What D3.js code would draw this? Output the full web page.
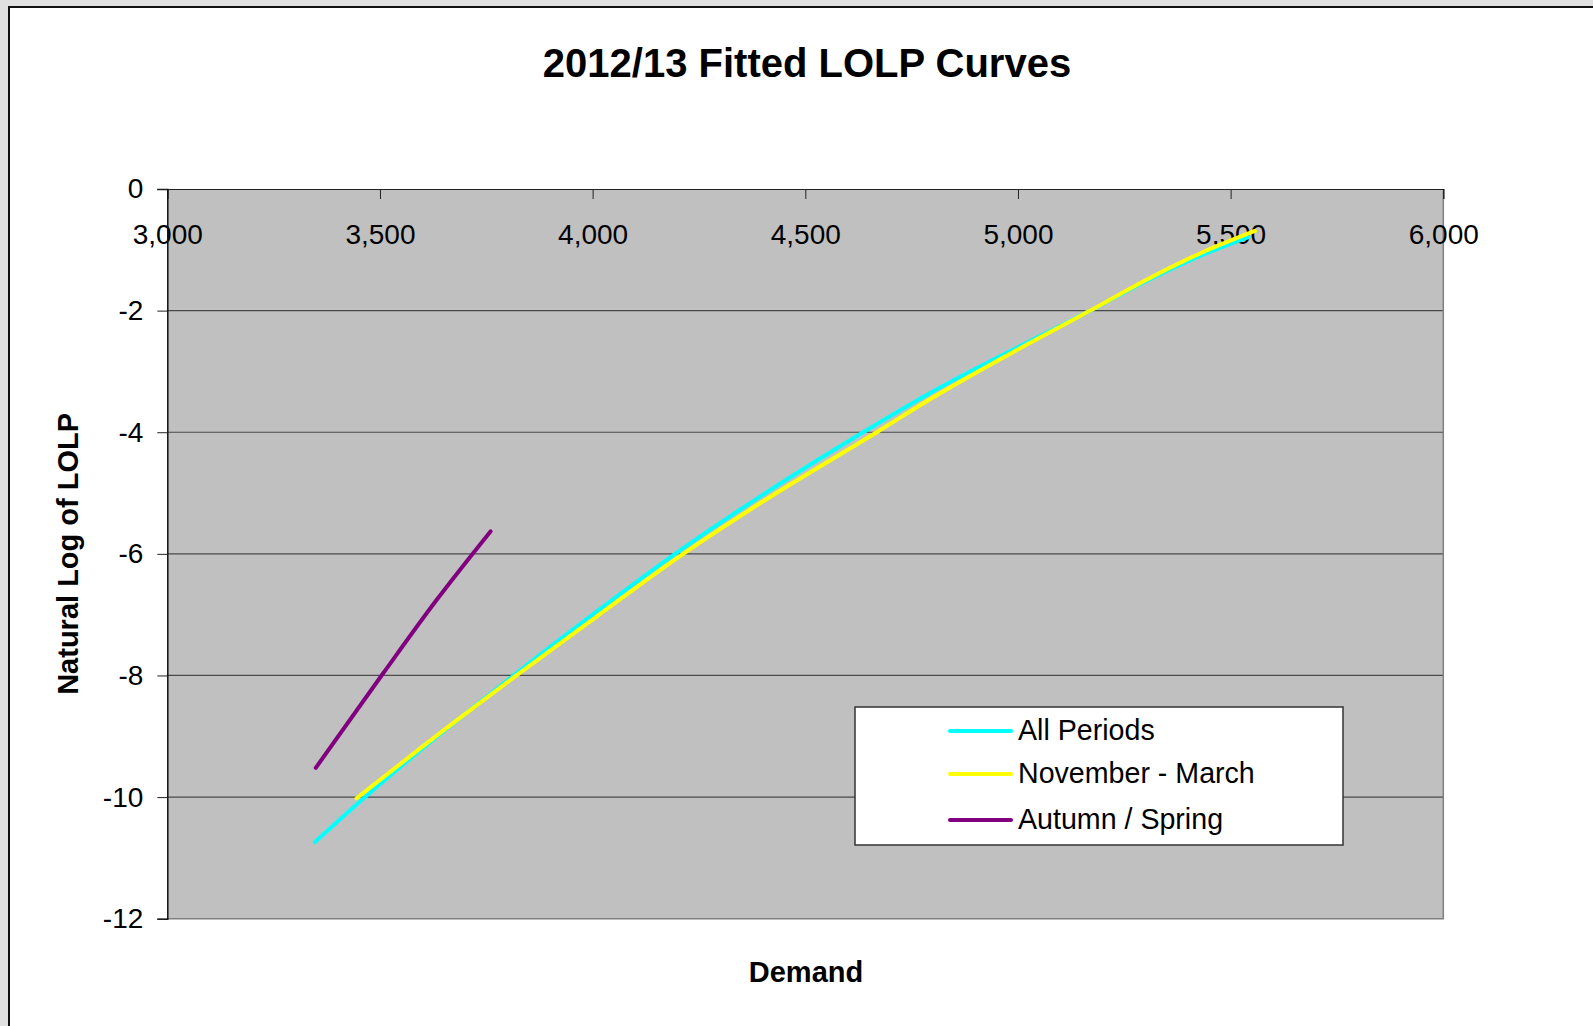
<!DOCTYPE html>
<html>
<head>
<meta charset="utf-8">
<script src="https://cdn.jsdelivr.net/npm/d3@7"></script>
<style>
  html, body { margin: 0; padding: 0; background: #e0e0e0; }
  svg { display: block; font-family: "Liberation Sans", Arial, sans-serif; }
</style>
</head>
<body>
<svg id="chart" width="1593" height="1026"></svg>
<script>
// ---- Data ----
const chartTitle = "2012/13 Fitted LOLP Curves";
const xTitle = "Demand";
const yTitle = "Natural Log of LOLP";
const seriesNames = ["All Periods", "November - March", "Autumn / Spring"];
const seriesColors = ["#00ffff", "#ffff00", "#800080"];

const allDemand = [3347, 3465, 3814, 4000, 4194, 4400, 4636, 4800, 5170, 5300, 5428, 5542];
const allLnLolp = [-10.74, -10.0, -8.0, -7.0, -6.0, -5.03, -4.0, -3.33, -2.0, -1.52, -1.1, -0.79];

const novMarDemand = [3445, 3600, 3821, 4000, 4213, 4400, 4668, 4800, 4958, 5170, 5300, 5428, 5557];
const novMarLnLolp = [-10.02, -9.17, -8.0, -7.08, -6.0, -5.14, -4.0, -3.43, -2.80, -2.0, -1.5, -1.06, -0.69];

const autSprDemand = [3349, 3508, 3633, 3760];
const autSprLnLolp = [-9.52, -7.96, -6.76, -5.63];

const xTicks = [3000, 3500, 4000, 4500, 5000, 5500, 6000];
const yTicks = [0, -2, -4, -6, -8, -10, -12];

// ---- Layout ----
const svg = d3.select("#chart");
const plot = { left: 167.3, right: 1443.3, top: 189, bottom: 918.7 };

// outer chart frame
svg.append("rect")
  .attr("x", 9).attr("y", 7)
  .attr("width", 1700).attr("height", 1100)
  .attr("fill", "#ffffff").attr("stroke", "#111").attr("stroke-width", 2);

const x = d3.scaleLinear().domain([3000, 6000]).range([plot.left, plot.right]);
const y = d3.scaleLinear().domain([0, -12]).range([plot.top, plot.bottom]);

// plot background
svg.append("rect")
  .attr("x", plot.left).attr("y", plot.top)
  .attr("width", plot.right - plot.left).attr("height", plot.bottom - plot.top)
  .attr("fill", "#c0c0c0");

// gridlines
svg.append("g").selectAll("line")
  .data(yTicks.filter(d => d !== 0 && d !== -12))
  .join("line")
  .attr("x1", plot.left).attr("x2", plot.right)
  .attr("y1", d => y(d)).attr("y2", d => y(d))
  .attr("stroke", "#4a4a4a").attr("stroke-width", 1.2);

// right and bottom border
svg.append("path")
  .attr("d", `M${plot.right},${plot.top}V${plot.bottom}H${plot.left}`)
  .attr("fill", "none").attr("stroke", "#808080").attr("stroke-width", 1.5);

// x axis (at y = 0, top), ticks down, labels below
const xAxis = svg.append("g")
  .attr("transform", `translate(0,${y(0)})`)
  .call(d3.axisBottom(x).tickValues(xTicks).tickSize(10).tickPadding(25)
    .tickFormat(d3.format(",")));
xAxis.select(".domain").attr("stroke", "#222").attr("stroke-width", 1.2);
xAxis.selectAll(".tick line").attr("stroke", "#222");
xAxis.selectAll("text").attr("font-size", 28).attr("fill", "#000")
  .attr("font-family", "Liberation Sans, Arial, sans-serif");

// y axis
const yAxis = svg.append("g")
  .attr("transform", `translate(${x(3000)},0)`)
  .call(d3.axisLeft(y).tickValues(yTicks).tickSize(10).tickPadding(14)
    .tickFormat(d => String(d)));
yAxis.select(".domain").attr("stroke", "#111").attr("stroke-width", 1.5);
yAxis.selectAll(".tick line").attr("stroke", "#222");
yAxis.selectAll("text").attr("font-size", 28).attr("fill", "#000")
  .attr("font-family", "Liberation Sans, Arial, sans-serif");

// series lines
const seriesData = [
  allDemand.map((d, i) => [d, allLnLolp[i]]),
  novMarDemand.map((d, i) => [d, novMarLnLolp[i]]),
  autSprDemand.map((d, i) => [d, autSprLnLolp[i]])
];
const line = d3.line().x(d => x(d[0])).y(d => y(d[1])).curve(d3.curveMonotoneX);
const drawOrder = [2, 0, 1];
drawOrder.forEach(i => {
  svg.append("path")
    .datum(seriesData[i])
    .attr("d", line)
    .attr("fill", "none")
    .attr("stroke", seriesColors[i])
    .attr("stroke-width", 4)
    .attr("stroke-linecap", "round")
    .attr("stroke-linejoin", "round");
});

// legend
const lg = svg.append("g");
lg.append("rect")
  .attr("x", 855).attr("y", 707).attr("width", 488).attr("height", 138)
  .attr("fill", "#fff").attr("stroke", "#333").attr("stroke-width", 1.5);
const legendY = [731, 774, 820];
seriesNames.forEach((name, i) => {
  lg.append("line")
    .attr("x1", 950).attr("x2", 1011)
    .attr("y1", legendY[i]).attr("y2", legendY[i])
    .attr("stroke", seriesColors[i]).attr("stroke-width", 4)
    .attr("stroke-linecap", "round");
  lg.append("text")
    .attr("x", 1018).attr("y", legendY[i] + 9)
    .attr("font-size", 28.6).attr("fill", "#000")
    .text(name);
});

// titles
svg.append("text")
  .attr("x", 807).attr("y", 77)
  .attr("text-anchor", "middle")
  .attr("font-size", 40).attr("font-weight", "bold")
  .text(chartTitle);

svg.append("text")
  .attr("x", 806).attr("y", 982)
  .attr("text-anchor", "middle")
  .attr("font-size", 29).attr("font-weight", "bold")
  .text(xTitle);

svg.append("text")
  .attr("transform", `translate(78,${(plot.top + plot.bottom) / 2}) rotate(-90)`)
  .attr("text-anchor", "middle")
  .attr("font-size", 29).attr("font-weight", "bold")
  .text(yTitle);
</script>
</body>
</html>
